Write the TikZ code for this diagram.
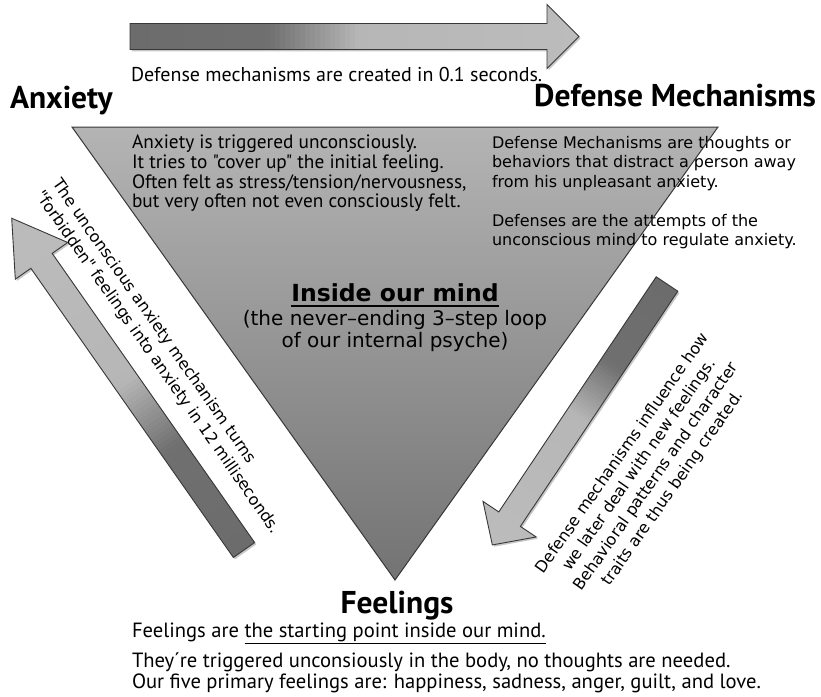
\documentclass[tikz,border=0pt]{standalone}
\usepackage{fontspec}
\setmainfont{PT Sans}[Ligatures=TeXOff]
\newfontfamily\lucida{DejaVu Sans}
\definecolor{adark}{HTML}{6C6C6C}
\definecolor{alight}{HTML}{BCBCBC}
\definecolor{tritop}{HTML}{B4B4B4}
\definecolor{trimid}{HTML}{9A9A9A}
\definecolor{tribot}{HTML}{737373}
\definecolor{edgec}{HTML}{383838}
% #1 tail, #2 angle, #3 length, #4 head length
\newcommand{\gradarrow}[4]{%
  \begin{scope}[shift={#1},shift={(1.6,1.8)},rotate=#2]
    \fill[black,opacity=0.22] (0,-13) -- ({#3-#4},-13) -- ({#3-#4},-32) -- (#3,0) -- ({#3-#4},32) -- ({#3-#4},13) -- (0,13) -- cycle;
  \end{scope}
  \begin{scope}[shift={#1},rotate=#2]
    \begin{scope}
      \clip (0,-13) -- ({#3-#4},-13) -- ({#3-#4},-32) -- (#3,0) -- ({#3-#4},32) -- ({#3-#4},13) -- (0,13) -- cycle;
      \foreach \k in {0,...,89}{%
        \pgfmathsetmacro{\gA}{(\k+0.5)/90}%
        \pgfmathsetmacro{\gP}{max(0,min(100,(\gA-0.31)*100/0.2))*0.85+\gA*15}%
        \pgfmathsetmacro{\gX}{\k/90*#3}%
        \pgfmathsetmacro{\gY}{(\k+1)/90*#3+0.8}%
        \fill[alight!\gP!adark] (\gX,-34) rectangle (\gY,34);
      }
    \end{scope}
    \draw[edgec,line width=0.9pt,line join=miter] (0,-13) -- ({#3-#4},-13) -- ({#3-#4},-32) -- (#3,0) -- ({#3-#4},32) -- ({#3-#4},13) -- (0,13) -- cycle;
  \end{scope}
}
\tikzset{
  txt/.style={inner sep=0pt, outer sep=0pt},
  title/.style={txt, font=\bfseries\fontsize{31.5}{35}\selectfont},
  body/.style={txt, font=\fontsize{20}{23}\selectfont},
  bottomtext/.style={txt, font=\fontsize{20.6}{23}\selectfont},
  lucbody/.style={txt, font=\lucida\fontsize{16}{19.5}\selectfont},
  rottext/.style={txt, font=\lucida\fontsize{16}{20.5}\selectfont},
}
\begin{document}
\begin{tikzpicture}[x=1pt,y=-1pt]
\fill[white] (0,0) rectangle (821,696);
\useasboundingbox (0,0) rectangle (821,696);

% triangle fill
\shade[top color=tritop, middle color=trimid, bottom color=tribot]
  (72,127) -- (718,127) -- (395,580) -- cycle;

% arrows
\gradarrow{(130,36.5)}{0}{449}{32}
\gradarrow{(244,550)}{125.0}{405}{52}
\gradarrow{(667,284)}{236.2}{314}{31}

% titles and captions
\node[body, anchor=base west] (cap) at (131,81) {Defense mechanisms are created in 0.1 seconds.};
\node[title, anchor=base west] (anx) at (10,108) {Anxiety};
\node[title, anchor=base east] (dm) at (816,106) {Defense Mechanisms};
\node[title, anchor=base] (feel) at (397,613) {Feelings};

% text in triangle
\node[txt, anchor=north west, align=left, font=\fontsize{19.3}{19.7}\selectfont] (anxtext) at (132,135)
  {Anxiety is triggered unconsciously.\\It tries to "cover up" the initial feeling.\\Often felt as stress/tension/nervousness,\\but very often not even consciously felt.};
\node[lucbody, anchor=north west, align=left] (dmtext) at (492,136)
  {Defense Mechanisms are thoughts or\\behaviors that distract a person away\\from his unpleasant anxiety.\\[19.5pt]Defenses are the attempts of the\\unconscious mind to regulate anxiety.};
\node[txt, font=\lucida\bfseries\fontsize{23.5}{27}\selectfont] (inside) at (395,293) {Inside our mind};
\draw[line width=1.8pt] ([yshift=-4pt]inside.south west) -- ([yshift=-4pt]inside.south east);
\node[txt, align=center, font=\lucida\fontsize{20}{22.5}\selectfont] (loop) at (395,331)
  {(the never–ending 3–step loop\\of our internal psyche)};

% triangle border
\draw[edgec, line width=1pt, line join=miter] (72,127) -- (718,127) -- (395,580) -- cycle;

% rotated texts
\node[rottext, rotate=-55, anchor=north west, align=left] (lefttext) at (62,177)
  {The unconscious anxiety mechanism turns\\"forbidden" feelings into anxiety in 12 milliseconds.};
\node[rottext, rotate=55, align=center] (righttext) at (648,471)
  {Defense mechanisms influence how\\we later deal with new feelings.\\Behavioral patterns and character\\traits are thus being created.};

% bottom text
\node[bottomtext, anchor=base west] (b1) at (132,637) {Feelings are \underline{the starting point inside our mind.}};
\node[bottomtext, anchor=base west] (b2) at (132,667) {They´re triggered unconsiously in the body, no thoughts are needed.};
\node[bottomtext, anchor=base west] (b3) at (132,688) {Our five primary feelings are: happiness, sadness, anger, guilt, and love.};
\end{tikzpicture}
\end{document}
